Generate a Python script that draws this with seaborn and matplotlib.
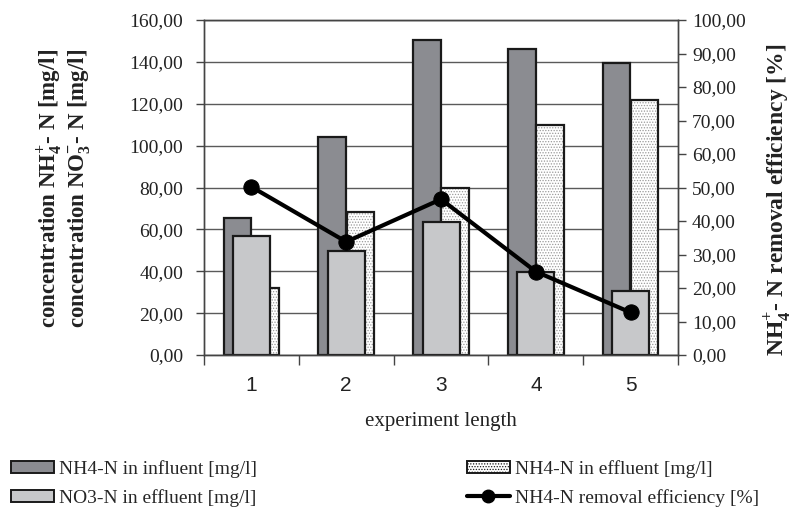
import numpy as np
import matplotlib.pyplot as plt
import seaborn as sns
from matplotlib.patches import Patch
from matplotlib.lines import Line2D
from matplotlib.ticker import FuncFormatter

# data
experiment = [1, 2, 3, 4, 5]
nh4_influent = [65.3, 104.0, 150.5, 146.0, 139.6]
nh4_effluent = [32.0, 68.3, 80.0, 110.0, 121.8]
no3_effluent = [57.0, 49.7, 63.3, 39.8, 30.6]
removal_eff = [50.2, 33.8, 46.5, 24.9, 12.7]

sns.set_theme(style="white")
plt.rcParams["font.family"] = ["Liberation Serif", "DejaVu Serif"]
plt.rcParams["mathtext.fontset"] = "custom"
plt.rcParams["mathtext.rm"] = "Liberation Serif"
plt.rcParams["mathtext.bf"] = "Liberation Serif:bold"
plt.rcParams["hatch.linewidth"] = 0.6

dark = "#8b8c91"
light = "#c7c8ca"
edge = "#1a1a1a"

fig = plt.figure(figsize=(7.96, 5.17), dpi=100)
ax = fig.add_axes([0.2563, 0.3133, 0.5955, 0.648])

x = np.array(experiment)

# NH4 influent (left, behind)
sns.barplot(x=x - 0.148, y=nh4_influent, native_scale=True, width=0.29,
            color=dark, saturation=1, edgecolor=edge, linewidth=1.6,
            errorbar=None, ax=ax)
# NH4 effluent (right, dotted)
sns.barplot(x=x + 0.148, y=nh4_effluent, native_scale=True, width=0.29,
            color="white", saturation=1, edgecolor="#9a9a9a", linewidth=0,
            hatch="......", errorbar=None, ax=ax)
sns.barplot(x=x + 0.148, y=nh4_effluent, native_scale=True, width=0.29,
            fill=False, edgecolor=edge, linewidth=1.6,
            errorbar=None, ax=ax)
# NO3 effluent (middle, in front)
sns.barplot(x=x, y=no3_effluent, native_scale=True, width=0.39,
            color=light, saturation=1, edgecolor=edge, linewidth=1.6,
            errorbar=None, ax=ax)

fmt = FuncFormatter(lambda v, p: f"{v:.2f}".replace(".", ","))

ax.set_xlim(0.5, 5.5)
ax.set_ylim(0, 160)
ax.set_yticks(np.arange(0, 161, 20))
ax.yaxis.set_major_formatter(fmt)
ax.yaxis.grid(True, color="#5a5a5a", lw=1.0)
ax.set_axisbelow(True)

ax.set_xticks(np.arange(0.5, 5.6, 1.0))
ax.set_xticklabels([])
ax.set_xticks(experiment, minor=True)
ax.set_xticklabels([str(e) for e in experiment], minor=True,
                   fontfamily="Liberation Sans", fontsize=15, color="#222222")
ax.tick_params(axis="x", which="major", bottom=True, length=7, width=1, color="#444444")
ax.tick_params(axis="x", which="minor", bottom=True, length=0, pad=15)
ax.tick_params(axis="y", left=True, length=6, width=1, color="#444444",
               labelsize=14, labelcolor="#222222", pad=9)
ax.set_xlabel("experiment length", fontsize=15, color="#222222", labelpad=12)
ax.set_ylabel("")
for s in ax.spines.values():
    s.set_color("#444444")
    s.set_linewidth(1.0)

ax2 = ax.twinx()
sns.lineplot(x=x, y=removal_eff, ax=ax2, color="black", lw=3, marker="o",
             markersize=11, markeredgecolor="black")
ax2.set_ylim(0, 100)
ax2.set_yticks(np.arange(0, 101, 10))
ax2.yaxis.set_major_formatter(fmt)
ax2.tick_params(axis="y", right=True, length=6, width=1, color="#444444",
                labelsize=14, labelcolor="#222222", pad=4)
ax2.set_ylabel("")
for s in ax2.spines.values():
    s.set_color("#444444")
    s.set_linewidth(1.0)

fig.text(0.062, 0.636, r"concentration NH$_\mathbf{4}^\mathbf{+}$- N [mg/l]",
         rotation=90, ha="center", va="center", fontsize=16.5, fontweight="bold",
         color="#222222")
fig.text(0.100, 0.636, r"concentration NO$_\mathbf{3}^\mathbf{-}$- N [mg/l]",
         rotation=90, ha="center", va="center", fontsize=16.5, fontweight="bold",
         color="#222222")
fig.text(0.977, 0.613, r"NH$_\mathbf{4}^\mathbf{+}$- N removal efficiency [%]",
         rotation=90, ha="center", va="center", fontsize=17, fontweight="bold",
         color="#222222")

h_infl = Patch(facecolor=dark, edgecolor=edge, linewidth=1.4)
h_no3 = Patch(facecolor=light, edgecolor=edge, linewidth=1.4)
h_effl = Patch(facecolor="white", edgecolor=edge, linewidth=1.4, hatch="......")
h_line = Line2D([], [], color="black", lw=3, marker="o", markersize=9)

leg_kw = dict(frameon=False, fontsize=14, handlelength=2.2, handleheight=0.6,
              handletextpad=0.25, labelspacing=0.55, borderaxespad=0)
leg1 = fig.legend([h_infl, h_no3], ["NH4-N in influent [mg/l]", "NO3-N in effluent [mg/l]"],
                  loc="upper left", bbox_to_anchor=(0.004, 0.125), **leg_kw)
leg2 = fig.legend([h_effl, h_line], ["NH4-N in effluent [mg/l]", "NH4-N removal efficiency [%]"],
                  loc="upper left", bbox_to_anchor=(0.577, 0.125), **leg_kw)

fig.savefig("out.png", dpi=100)
